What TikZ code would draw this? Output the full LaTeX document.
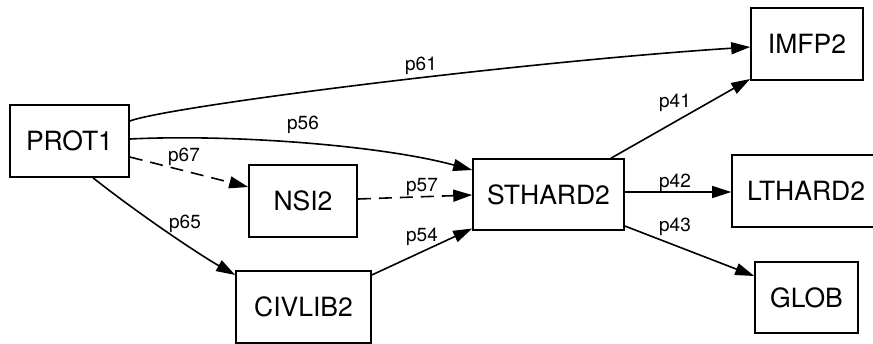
\documentclass[tikz,border=0pt]{standalone}
\usepackage{fontspec}
\setmainfont{TeX Gyre Heros}
\usetikzlibrary{arrows.meta}
\begin{document}
\begin{tikzpicture}[x=1pt,y=1pt,
 box/.style={draw, line width=1.6pt, inner sep=0pt, font=\fontsize{26.5}{30}\selectfont},
 lbl/.style={inner sep=0pt, font=\fontsize{19}{22}\selectfont},
 conn/.style={line width=1.6pt, -{Triangle[length=19pt,width=12pt]}},
 dconn/.style={conn, dash pattern=on 13pt off 8pt}]
\useasboundingbox (0,0) rectangle (873,-343);
\node[box, minimum width=119pt, minimum height=72pt] (prot) at (69.5,-141) {PROT1};
\node[box, minimum width=108pt, minimum height=72pt] (nsi) at (303,-201) {NSI2};
\node[box, minimum width=135pt, minimum height=72pt] (civ) at (303.5,-307) {CIVLIB2};
\node[box, minimum width=151pt, minimum height=71pt] (st) at (548.5,-194.5) {STHARD2};
\node[box, minimum width=112pt, minimum height=72pt] (imfp) at (807,-44) {IMFP2};
\node[box, minimum width=148pt, minimum height=72pt] (lt) at (806,-191) {LTHARD2};
\node[box, minimum width=103pt, minimum height=71pt] (glob) at (806.5,-297.5) {GLOB};
% connectors
\draw[conn] ([yshift=20pt]prot.east) .. controls (170,-106) and (520,-62) .. ([yshift=-3pt]imfp.west);
\draw[conn] ([yshift=2pt]prot.east) .. controls (230,-134) and (380,-145) .. ([yshift=24.5pt]st.west);
\draw[dconn] ([yshift=-16pt]prot.east) -- ([yshift=14pt]nsi.west);
\draw[conn] ([xshift=23.5pt]prot.south) .. controls (140,-215) and (200,-255) .. ([yshift=32pt]civ.west);
\draw[dconn] ([yshift=2pt]nsi.east) -- ([yshift=-0.5pt]st.west);
\draw[conn] ([yshift=32pt]civ.east) -- ([yshift=-34pt]st.west);
\draw[conn] ([xshift=62.5pt]st.north) -- ([yshift=-35pt]imfp.west);
\draw[conn] ([yshift=2.5pt]st.east) -- ([yshift=-1pt]lt.west);
\draw[conn] ([yshift=-31.5pt]st.east) -- ([yshift=21.5pt]glob.west);
% labels
\node[lbl] (l61) at (421,-66) {p61};
\node[lbl] (l56) at (303,-125) {p56};
\node[lbl] (l67) at (184,-157) {p67};
\node[lbl] (l65) at (185,-224) {p65};
\node[lbl] (l57) at (422,-187) {p57};
\node[lbl] (l54) at (422,-237) {p54};
\node[lbl] (l41) at (675,-103) {p41};
\node[lbl] (l42) at (675,-183) {p42};
\node[lbl] (l43) at (675,-227) {p43};
\end{tikzpicture}
\end{document}
